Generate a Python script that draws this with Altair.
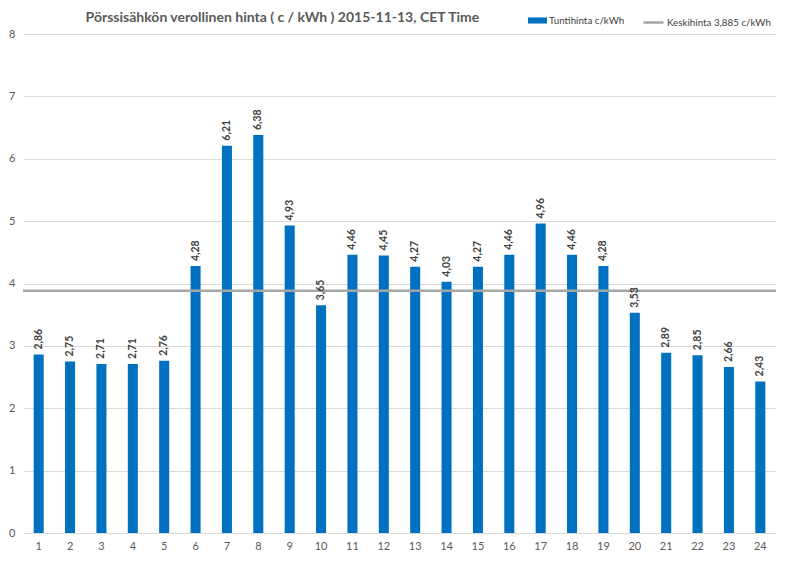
import altair as alt
import pandas as pd

hours = list(range(1, 25))
prices = [2.86, 2.75, 2.71, 2.71, 2.76, 4.28, 6.21, 6.38, 4.93, 3.65, 4.46, 4.45,
          4.27, 4.03, 4.27, 4.46, 4.96, 4.46, 4.28, 3.53, 2.89, 2.85, 2.66, 2.43]
average = 3.885
bar_name = "Tuntihinta c/kWh"
line_name = "Keskihinta 3,885 c/kWh"
title_text = "Pörssisähkön verollinen hinta ( c / kWh ) 2015-11-13, CET Time"

df = pd.DataFrame({
    "hour": hours,
    "price": prices,
    "label": [f"{p:.2f}".replace(".", ",") for p in prices],
    "series": [bar_name] * len(hours),
})
avg_df = pd.DataFrame({"avg": [average], "series": [line_name]})

FONT = "Lato"
GREY = "#595959"

x = alt.X("hour:O", title=None,
          axis=alt.Axis(labelAngle=0, ticks=False, domain=False, labelPadding=7,
                        labelFontSize=11, labelColor=GREY, labelFont=FONT),
          scale=alt.Scale(paddingInner=0.68, paddingOuter=0.34))
y = alt.Y("price:Q", title=None,
          scale=alt.Scale(domain=[0, 8], nice=False),
          axis=alt.Axis(values=list(range(0, 9)), format="d", ticks=False, domain=False,
                        labelFontSize=11, labelColor=GREY, labelFont=FONT,
                        labelPadding=8, gridColor="#D9D9D9", gridWidth=1))

bars = alt.Chart(df).mark_bar(color="#0070C0").encode(
    x=x, y=y,
    fill=alt.Fill("series:N", scale=alt.Scale(domain=[bar_name], range=["#0070C0"]),
                  legend=alt.Legend(orient="none", legendX=505, legendY=-23, title=None,
                                    symbolType="M-1,-0.32H1V0.32H-1Z", symbolSize=361,
                                    labelOffset=2, labelFontSize=9.8, labelColor="#404040",
                                    labelFont=FONT, symbolStrokeWidth=0))
)

labels = alt.Chart(df).mark_text(angle=270, align="left", baseline="middle", dx=5,
                                 fontSize=10.5, fontWeight="bold", color="#404040",
                                 font=FONT).encode(
    x=x, y=y, text="label:N")

rule = alt.Chart(avg_df).mark_rule(strokeWidth=2.5).encode(
    y=alt.Y("avg:Q", scale=alt.Scale(domain=[0, 8], nice=False)),
    stroke=alt.Stroke("series:N", scale=alt.Scale(domain=[line_name], range=["#A5A5A5"]),
                      legend=alt.Legend(orient="none", legendX=619, legendY=-23, title=None,
                                        symbolType="stroke", symbolSize=400,
                                        symbolStrokeWidth=2.5, labelOffset=2,
                                        labelFontSize=9.8, labelColor="#404040",
                                        labelFont=FONT))
)

chart = alt.layer(bars, rule, labels).properties(
    width=753, height=499,
    autosize=alt.AutoSizeParams(type="none"),
    padding={"left": 15, "top": 26, "right": 16, "bottom": 25},
    title=alt.TitleParams(title_text, anchor="start", dx=77, offset=-14,
                          fontSize=14, fontWeight="bold", color=GREY, font=FONT),
).configure_view(stroke=None).resolve_scale(fill="independent", stroke="independent")

chart.save("out.html", embed_options={"renderer": "svg", "actions": False})
